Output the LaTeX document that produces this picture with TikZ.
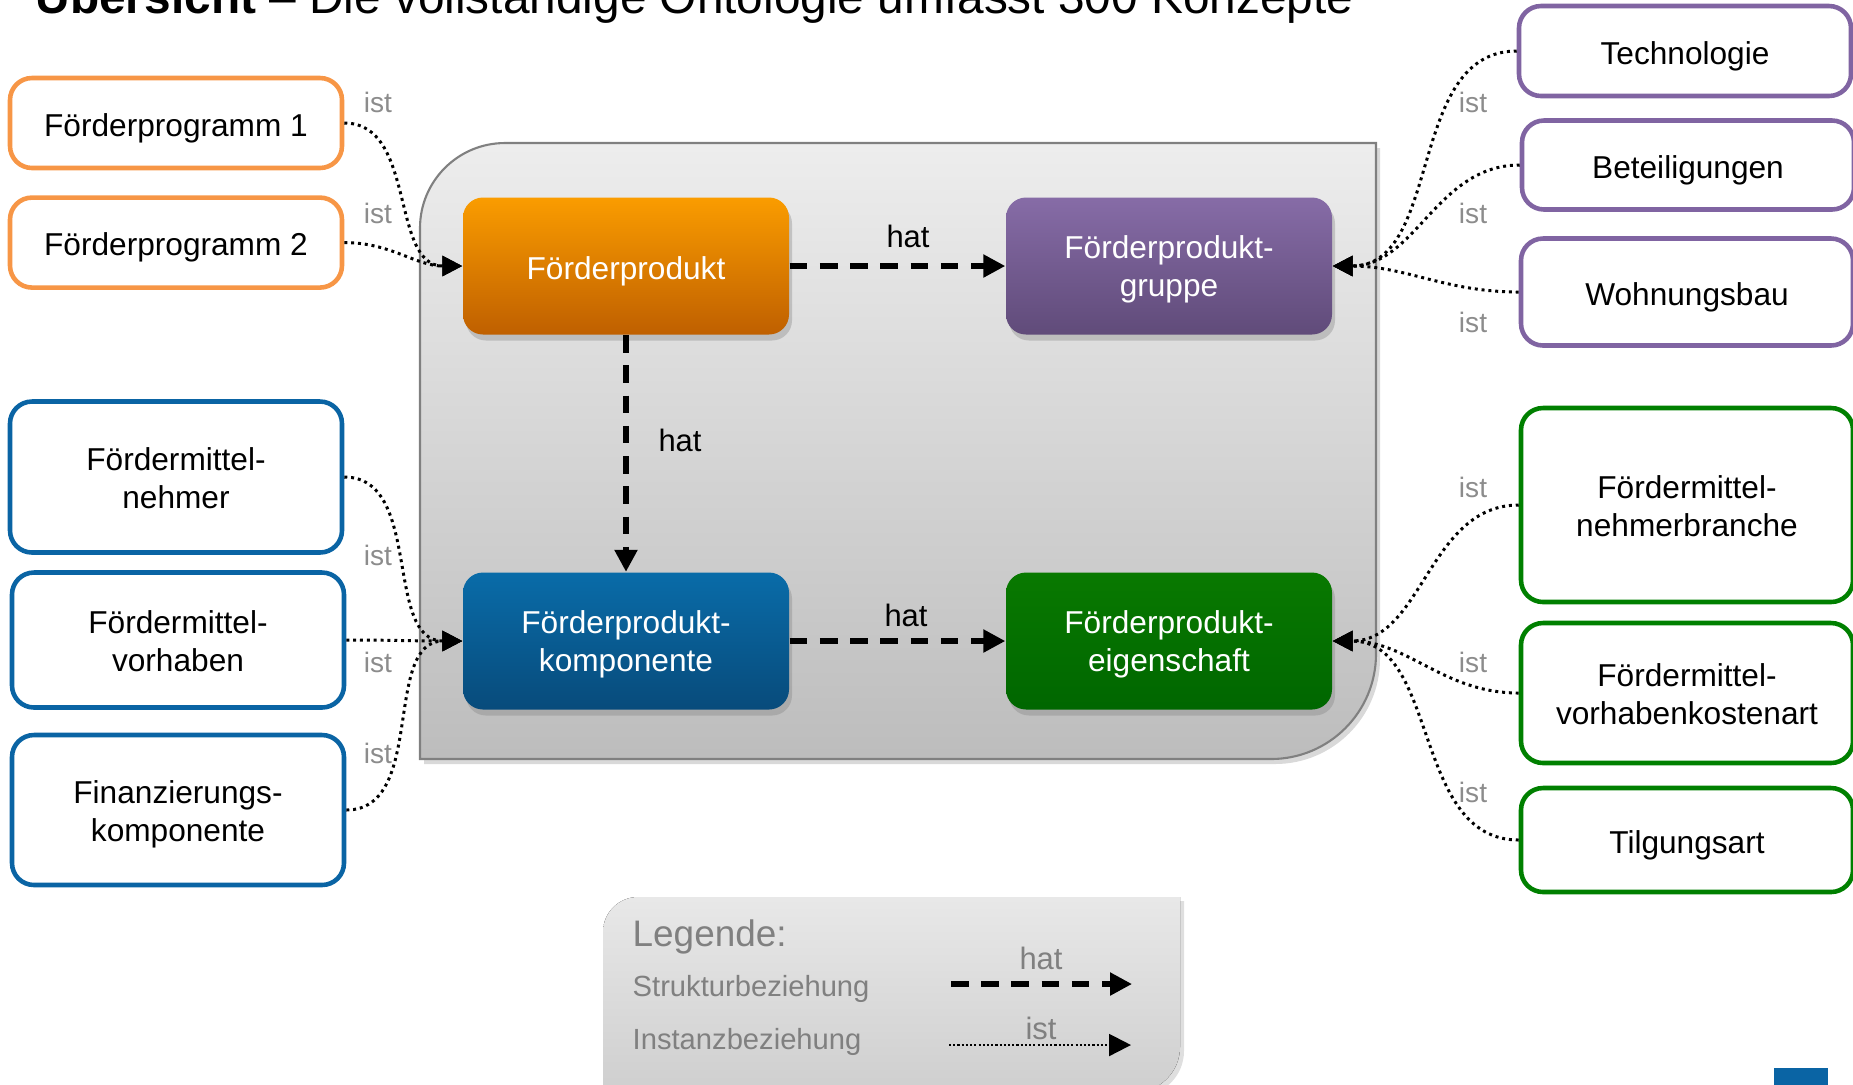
\documentclass[tikz,border=0pt]{standalone}
\usepackage{fontspec}
\setmainfont{Liberation Sans}
\usetikzlibrary{positioning,arrows.meta,shadows}

\definecolor{progorange}{HTML}{F79646}
\definecolor{grpviolet}{HTML}{8064A2}
\definecolor{kompblue}{HTML}{0A64A4}
\definecolor{eiggreen}{HTML}{008000}
\definecolor{labelgray}{HTML}{8C8C8C}

\newcommand\boxfont{\fontsize{9}{10.8}\selectfont}

\begin{document}
\begin{tikzpicture}[
    klasse/.style = {draw, line width=1.3pt, rounded corners=0.22cm, fill=white, align=center, font=\boxfont, minimum width=3.32cm, inner sep=0pt},
    concept/.style = {rounded corners=0.2cm, align=center, text=white, font=\boxfont, minimum width=3.26cm, minimum height=1.37cm, inner sep=0pt,
                      drop shadow={shadow xshift=0.03cm, shadow yshift=-0.06cm, opacity=0.35}},
    oneline/.style = {text height=9.5pt, text depth=1.9pt},
    twoline/.style = {text height=#1, text depth=1.9pt},
    istlbl/.style = {text=labelgray, font=\fontsize{8}{9.6}\selectfont, inner sep=0pt},
    hatlbl/.style = {font=\fontsize{8.8}{10}\selectfont, inner sep=0pt},
    hatarrow/.style = {line width=1.5pt, dash pattern=on 5pt off 3.6pt, -{Triangle[length=0.22cm,width=0.22cm]}},
    istarrow/.style = {line width=0.85pt, dash pattern=on 0.85pt off 1.1pt, -{Triangle[length=0.2cm,width=0.2cm]}}
  ]
  \useasboundingbox (0,0) rectangle (18.53,-10.84);

  % title, cut off at the top
  \node[anchor=base west, inner sep=0pt, font=\fontsize{13.6}{16}\selectfont] (title) at (0.35,-0.13)
    {\textbf{Übersicht} – Die vollständige Ontologie umfasst 300 Konzepte};

  % grey container
  \draw[draw=black!50, line width=0.6pt, top color=black!7, bottom color=black!26,
        drop shadow={shadow xshift=0.04cm, shadow yshift=-0.05cm, opacity=0.3}]
    (4.20,-7.59) -- (4.20,-4) [rounded corners=0.85cm] -- (4.20,-1.43) -- (9,-1.43)
    [sharp corners] -- (13.76,-1.43) -- (13.76,-4) [rounded corners=1.05cm] -- (13.76,-7.59)
    -- (9,-7.59) [sharp corners] -- cycle;

  % central concepts
  \node[concept, oneline, top color=orange!75!yellow!98!black, bottom color=orange!75!black] (prod) at (6.26,-2.66) {Förderprodukt};
  \node[concept, twoline=19.4pt, top color=grpviolet!95, bottom color=grpviolet!75!black] (grp) at (11.69,-2.66) {Förderprodukt-\\gruppe};
  \node[concept, twoline=19.4pt, top color=kompblue!95!cyan, bottom color=kompblue!75!black] (komp) at (6.26,-6.41) {Förderprodukt-\\komponente};
  \node[concept, twoline=19.4pt, top color=eiggreen!95!lime!90!black, bottom color=eiggreen!80!black] (eig) at (11.69,-6.41) {Förderprodukt-\\eigenschaft};

  \draw[hatarrow] (prod) -- (grp);
  \draw[hatarrow] (prod) -- (komp);
  \draw[hatarrow] (komp) -- (eig);
  \node[hatlbl] (hat1) at (9.08,-2.36) {hat};
  \node[hatlbl] (hat2) at (6.80,-4.40) {hat};
  \node[hatlbl] (hat3) at (9.06,-6.15) {hat};

  % instances left
  \node[klasse, oneline, draw=progorange, minimum height=0.90cm] (fp1) at (1.76,-1.23) {Förderprogramm 1};
  \node[klasse, oneline, draw=progorange, minimum height=0.90cm, below=0.25cm of fp1] (fp2) {Förderprogramm 2};
  \node[klasse, twoline=19.6pt, draw=kompblue, minimum height=1.51cm] (fmn) at (1.76,-4.77) {Fördermittel-\\nehmer};
  \node[klasse, twoline=19.6pt, draw=kompblue, minimum height=1.35cm] (fmv) at (1.78,-6.40) {Fördermittel-\\vorhaben};
  \node[klasse, twoline=19.6pt, draw=kompblue, minimum height=1.50cm] (fin) at (1.78,-8.10) {Finanzierungs-\\komponente};

  % instances right
  \node[klasse, oneline, draw=grpviolet, minimum height=0.90cm] (tech) at (16.85,-0.51) {Technologie};
  \node[klasse, oneline, draw=grpviolet, minimum height=0.89cm] (bet) at (16.88,-1.65) {Beteiligungen};
  \node[klasse, oneline, draw=grpviolet, minimum height=1.07cm] (wohn) at (16.87,-2.92) {Wohnungsbau};
  \node[klasse, twoline=19.6pt, draw=eiggreen, minimum height=1.94cm] (fmb) at (16.87,-5.05) {Fördermittel-\\nehmerbranche};
  \node[klasse, twoline=19.6pt, draw=eiggreen, minimum height=1.40cm] (fvk) at (16.87,-6.93) {Fördermittel-\\vorhabenkostenart};
  \node[klasse, oneline, draw=eiggreen, minimum height=1.04cm] (tilg) at (16.87,-8.40) {Tilgungsart};

  \draw[istarrow] (fp1.east) to[out=0, in=180] (prod.west);
  \draw[istarrow] (fp2.east) to[out=0, in=180] (prod.west);
  \draw[istarrow] (fmn.east) to[out=0, in=180] (komp.west);
  \draw[istarrow] (fmv.east) to[out=0, in=180] (komp.west);
  \draw[istarrow] (fin.east) to[out=0, in=180] (komp.west);
  \draw[istarrow] (tech.west) to[out=180, in=0] (grp.east);
  \draw[istarrow] (bet.west) to[out=180, in=0] (grp.east);
  \draw[istarrow] (wohn.west) to[out=180, in=0] (grp.east);
  \draw[istarrow] (fmb.west) to[out=180, in=0] (eig.east);
  \draw[istarrow] (fvk.west) to[out=180, in=0] (eig.east);
  \draw[istarrow] (tilg.west) to[out=180, in=0] (eig.east);

  \foreach \x/\y [count=\i] in {3.78/-1.02, 3.78/-2.13, 3.78/-5.55, 3.78/-6.62, 3.78/-7.53,
                                14.73/-1.02, 14.73/-2.13, 14.73/-3.22, 14.73/-4.87, 14.73/-6.62, 14.73/-7.92}
    \node[istlbl] (ist\i) at (\x,\y) {ist};

  % legend
  \fill[top color=black!9, bottom color=black!19,
        drop shadow={shadow xshift=0.04cm, shadow yshift=-0.04cm, opacity=0.25}]
    (6.03,-10.92) -- (6.03,-9.8) [rounded corners=0.35cm] -- (6.03,-8.97) -- (9,-8.97)
    [sharp corners] -- (11.80,-8.97) -- (11.80,-9.8) [rounded corners=0.45cm] -- (11.80,-10.92)
    -- (9,-10.92) [sharp corners] -- cycle;
  \node[anchor=west, inner sep=0pt, text=black!50, font=\fontsize{10.5}{12}\selectfont] (leg) at (6.32,-9.37) {Legende:};
  \node[anchor=west, inner sep=0pt, text=black!50, font=\fontsize{8.3}{10}\selectfont] (struk) at (6.32,-9.89) {Strukturbeziehung};
  \node[anchor=west, inner sep=0pt, text=black!50, font=\fontsize{8.3}{10}\selectfont] (inst) at (6.32,-10.42) {Instanzbeziehung};
  \coordinate (hatA) at (9.51,-9.84);
  \coordinate (hatB) at (11.32,-9.84);
  \coordinate (istA) at (9.49,-10.45);
  \coordinate (istB) at (11.31,-10.45);
  \draw[hatarrow] (hatA) -- (hatB);
  \draw[line width=0.6pt, dash pattern=on 0.6pt off 0.6pt, -{Triangle[length=0.22cm,width=0.22cm]}] (istA) -- (istB);
  \node[hatlbl, text=black!50] (leghat) at (10.41,-9.58) {hat};
  \node[hatlbl, text=black!50] (legist) at (10.41,-10.28) {ist};

  % corner mark
  \fill[kompblue] (17.74,-10.68) rectangle (18.28,-10.90);
\end{tikzpicture}
\end{document}
